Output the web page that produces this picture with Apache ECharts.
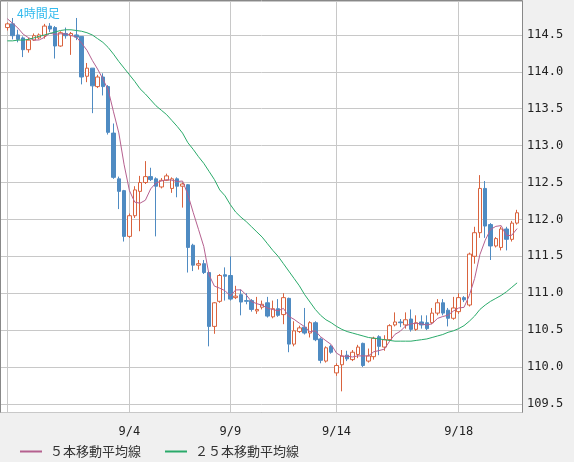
<!DOCTYPE html>
<html><head><meta charset="utf-8">
<script src="https://cdn.jsdelivr.net/npm/echarts@6/dist/echarts.min.js"></script>
<style>html,body{margin:0;padding:0;background:#f0f0f0}#c{width:574px;height:462px}</style>
</head><body><div id="c"></div>
<script>
// [open, close, low, high]
const ohlc = [
[114.60,114.65,114.56,114.67],[114.65,114.49,114.44,114.73],[114.50,114.44,114.40,114.57],[114.46,114.30,114.20,114.48],
[114.30,114.43,114.26,114.46],[114.43,114.49,114.42,114.52],[114.46,114.50,114.44,114.52],[114.49,114.62,114.45,114.65],
[114.62,114.58,114.54,114.66],[114.60,114.35,114.18,114.62],[114.35,114.53,114.34,114.55],[114.52,114.49,114.45,114.60],
[114.49,114.52,114.23,114.54],[114.50,114.47,114.43,114.73],[114.48,113.93,113.83,114.48],[113.94,114.05,113.86,114.12],
[114.05,113.81,113.44,114.05],[113.80,113.93,113.78,113.96],[113.93,113.80,113.68,113.98],[113.80,113.18,113.15,113.82],
[113.17,112.57,112.55,113.30],[112.55,112.38,112.14,112.58],[112.39,111.77,111.70,112.40],[111.77,112.05,111.75,112.08],
[112.05,112.40,112.02,112.45],[112.38,112.50,111.84,112.59],[112.50,112.58,112.48,112.79],[112.58,112.54,112.52,112.70],
[112.55,112.45,111.77,112.57],[112.44,112.53,112.42,112.56],[112.53,112.59,112.52,112.62],[112.42,112.55,112.36,112.57],
[112.55,112.45,112.30,112.57],[112.45,112.48,112.16,112.50],[112.47,111.62,111.28,112.48],[111.65,111.38,111.30,111.67],
[111.38,111.40,111.32,111.45],[111.40,111.28,111.26,111.45],[111.28,110.55,110.28,111.30],[110.55,110.87,110.45,110.88],
[110.89,111.24,110.87,111.26],[111.25,111.23,110.90,111.35],[111.24,110.92,110.90,111.50],[110.94,110.96,110.92,111.10],
[110.98,110.88,110.70,111.05],[110.90,110.89,110.85,111.00],[110.90,110.78,110.75,110.92],[110.76,110.78,110.72,110.95],
[110.81,110.85,110.78,110.90],[110.87,110.69,110.67,110.95],[110.68,110.79,110.66,110.90],[110.79,110.70,110.68,110.92],
[110.71,110.94,110.58,111.00],[110.93,110.31,110.20,110.94],[110.31,110.49,110.28,110.62],[110.48,110.53,110.46,110.56],
[110.54,110.46,110.44,110.80],[110.46,110.60,110.40,110.62],[110.60,110.37,110.35,110.62],[110.38,110.09,110.05,110.40],
[110.08,110.26,110.06,110.28],[110.28,110.20,110.18,110.30],[109.92,110.02,109.88,110.05],[110.03,110.15,109.67,110.23],
[110.16,110.11,110.08,110.22],[110.10,110.20,110.08,110.23],[110.17,110.27,110.12,110.30],[110.32,110.02,110.00,110.33],
[110.08,110.15,110.06,110.25],[110.14,110.39,110.10,110.41],[110.41,110.28,110.16,110.43],[110.27,110.37,110.22,110.43],
[110.37,110.56,110.35,110.58],[110.57,110.61,110.55,110.74],[110.61,110.60,110.54,110.65],[110.57,110.64,110.52,110.74],
[110.65,110.51,110.48,110.78],[110.51,110.60,110.49,110.70],[110.61,110.57,110.52,110.70],[110.60,110.52,110.50,110.70],
[110.60,110.73,110.58,110.80],[110.73,110.87,110.70,110.92],[110.87,110.73,110.70,110.92],[110.77,110.66,110.55,110.80],
[110.66,110.80,110.64,110.95],[110.75,110.94,110.72,111.00],[110.94,110.91,110.88,110.96],[110.84,111.53,110.82,111.55],
[111.50,111.82,111.40,111.90],[111.82,112.42,111.75,112.60],[112.42,111.91,111.75,112.52],[111.93,111.64,111.45,111.95],
[111.64,111.74,111.62,111.76],[111.62,111.87,111.58,111.90],[111.87,111.73,111.58,111.90],[111.73,111.95,111.70,111.98],
[111.95,112.09,111.93,112.13]
];
const priorCloses = [114.80,114.76,114.72,114.67];
const ma25 = [114.42,114.42,114.43,114.43,114.44,114.46,114.48,114.50,114.52,114.54,114.56,114.57,114.57,114.56,114.55,114.53,
114.50,114.45,114.40,114.33,114.24,114.14,114.05,113.96,113.87,113.77,113.70,113.62,113.54,113.48,113.42,113.34,113.26,113.17,
113.04,112.95,112.85,112.76,112.65,112.54,112.40,112.32,112.20,112.10,112.03,111.97,111.90,111.83,111.76,111.67,111.58,111.50,
111.40,111.30,111.20,111.10,110.98,110.88,110.78,110.70,110.64,110.60,110.55,110.51,110.48,110.46,110.44,110.42,110.40,110.39,
110.38,110.37,110.36,110.35,110.35,110.35,110.35,110.36,110.37,110.38,110.40,110.42,110.44,110.47,110.49,110.52,110.56,110.62,
110.69,110.78,110.84,110.89,110.93,110.97,111.02,111.08,111.14];
const tickLabels = {23:'9/4',42:'9/9',62:'9/14',85:'9/18'};
const seriesNames = ['５本移動平均線','２５本移動平均線'];
const categories = ohlc.map((d,i)=>String(i));

const closes = priorCloses.concat(ohlc.map(d=>d[1]));
const ma5 = ohlc.map((d,i)=>{let s=0;for(let k=i;k<i+5;k++)s+=closes[k];return +(s/5).toFixed(3);});

const YMIN=109.39, YMAX=114.96;
const chart = echarts.init(document.getElementById('c'));
chart.setOption({
  animation:false,
  backgroundColor:'#f0f0f0',
  title:{text:'4時間足',left:12,top:2,textStyle:{color:'#33bbee',fontSize:12,fontWeight:'normal',fontFamily:'Noto Sans CJK JP'}},
  graphic:[{type:'rect',z:-10,shape:{x:0.5,y:0.5,width:522,height:412},style:{fill:'#fff',stroke:'#888',lineWidth:1}}],
  legend:{left:15,top:440,itemWidth:22,itemHeight:2,itemGap:24,icon:'rect',
    textStyle:{fontSize:13,color:'#333',fontFamily:'Noto Sans CJK JP',padding:[0,0,0,3]},data:seriesNames},
  grid:[{left:1,right:52,top:1,bottom:50},{left:7.3,right:56.9,top:1,bottom:50}],
  xAxis:[
    {gridIndex:0,type:'value',show:false,min:0,max:1},
    {gridIndex:1,type:'category',data:categories,boundaryGap:false,
     axisLine:{show:false},axisTick:{show:false},
     axisLabel:{interval:(i)=>tickLabels[i]!==undefined,formatter:(v,i)=>tickLabels[i]||'',margin:14,fontSize:12,color:'#222',fontFamily:'DejaVu Sans Mono'},
     splitLine:{show:true,interval:(i)=>i===0||tickLabels[i]!==undefined,lineStyle:{color:'#c8c8c8',width:1}}}
  ],
  yAxis:[
    {gridIndex:0,type:'value',position:'right',min:YMIN,max:YMAX,splitNumber:11,scale:true,
     axisLine:{show:false},axisTick:{show:false},
     axisLabel:{showMinLabel:false,showMaxLabel:false,margin:5,fontSize:12,color:'#222',fontFamily:'DejaVu Sans Mono',formatter:v=>v.toFixed(1)},
     splitLine:{lineStyle:{color:'#c8c8c8',width:1}}},
    {gridIndex:1,type:'value',min:YMIN,max:YMAX,scale:true,show:false,splitLine:{show:false}}
  ],
  series:[
    {type:'candlestick',xAxisIndex:1,yAxisIndex:1,data:ohlc,barWidth:4,
     itemStyle:{color:'#ffffff',color0:'#4f8bc2',borderColor:'#d9633e',borderColor0:'#4f8bc2',borderWidth:1}},
    {name:seriesNames[0],type:'line',xAxisIndex:1,yAxisIndex:1,data:ma5,showSymbol:false,smooth:false,
     lineStyle:{color:'#b5608f',width:1},itemStyle:{color:'#b5608f'}},
    {name:seriesNames[1],type:'line',xAxisIndex:1,yAxisIndex:1,data:ma25,showSymbol:false,
     lineStyle:{color:'#2aaa6a',width:1},itemStyle:{color:'#2aaa6a'}}
  ]
});
</script></body></html>
